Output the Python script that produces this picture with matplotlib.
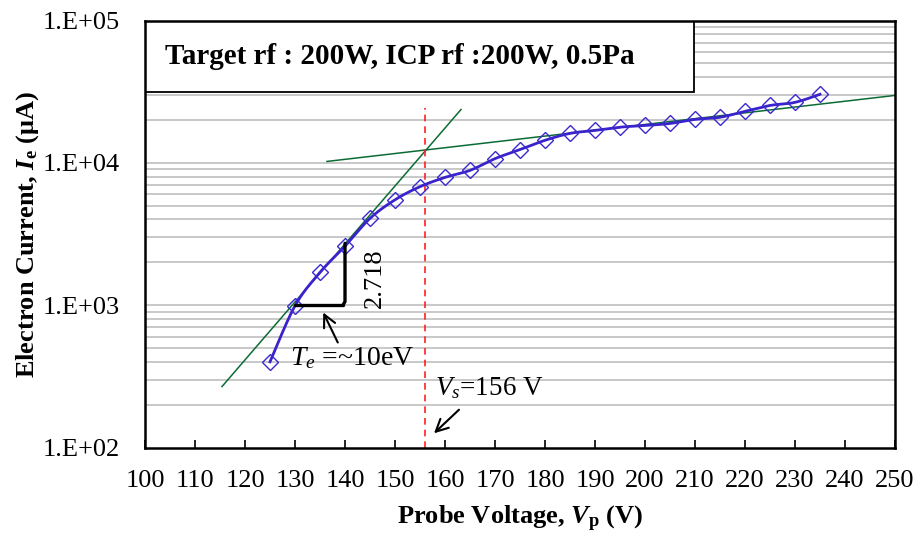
import numpy as np
import matplotlib
matplotlib.use("Agg")
import matplotlib.pyplot as plt
from matplotlib.patches import Rectangle

plt.rcParams['font.family'] = ['Liberation Serif', 'DejaVu Serif']
plt.rcParams['mathtext.fontset'] = 'custom'
plt.rcParams['mathtext.rm'] = 'Liberation Serif'
plt.rcParams['mathtext.it'] = 'Liberation Serif:italic'
plt.rcParams['mathtext.bf'] = 'Liberation Serif:bold'
try:
    plt.rcParams['mathtext.bfit'] = 'Liberation Serif:italic:bold'
except KeyError:
    pass

# ---- data ----
probe_voltage = [125, 130, 135, 140, 145, 150, 155, 160, 165, 170, 175, 180,
                 185, 190, 195, 200, 205, 210, 215, 220, 225, 230, 235]
electron_current = [400, 990, 1700, 2600, 4070, 5500, 6800, 7900, 8850, 10700,
                    12400, 14400, 16100, 16900, 17800, 18300, 18900, 20200,
                    20900, 23000, 25300, 26600, 30300]

fit_steep_x = [115.4, 163.2]
fit_steep_y = [268, 23700]
fit_flat_x = [136.4, 250]
fit_flat_y = [10230, 29760]
vs_value = 156
vs_line_y = [100, 24100]
bracket_x = [130, 140]
bracket_y = [1000, 2718]

x_ticks = list(range(100, 251, 10))
y_ticks = [1e2, 1e3, 1e4, 1e5]
y_tick_labels = ['1.E+02', '1.E+03', '1.E+04', '1.E+05']
box_title = 'Target rf : 200W, ICP rf :200W, 0.5Pa'

# ---- figure ----
fig = plt.figure(figsize=(9.2, 5.35), dpi=100)
ax = fig.add_axes([145/920, (535-447.5)/535, 750/920, 427/535])
ax.set_yscale('log')
ax.set_xlim(100, 250)
ax.set_ylim(1e2, 1e5)

# gridlines at every 1..9 x decade
grid_vals = [m * 10**e for e in (2, 3, 4) for m in range(1, 10)][1:]
for g in grid_vals:
    ax.axhline(g, color='#c8c8c8', lw=1.4, zorder=0)

# smooth (Catmull-Rom / Bezier) curve in (x, log y) space
xs = np.array(probe_voltage, float)
ys = np.log10(np.array(electron_current, float))
P = np.column_stack([xs, ys])
Pext = np.vstack([P[0], P, P[-1]])
curve = []
t = np.linspace(0, 1, 25)[:, None]
for i in range(len(P) - 1):
    p0, p1, p2, p3 = Pext[i], Pext[i+1], Pext[i+2], Pext[i+3]
    c1 = p1 + (p2 - p0) / 6
    c2 = p2 - (p3 - p1) / 6
    seg = ((1-t)**3) * p1 + 3*((1-t)**2)*t*c1 + 3*(1-t)*t**2*c2 + t**3*p2
    curve.append(seg)
curve = np.vstack(curve)
ax.plot(curve[:, 0], 10**curve[:, 1], color='#3a22cc', lw=2.0, zorder=4)
ax.plot(probe_voltage, electron_current, linestyle='none', marker='D',
        ms=8.5, mfc='none', mec='#3a2acc', mew=1.0, zorder=5)

# fit lines
ax.plot(fit_steep_x, fit_steep_y, color='#0b6b35', lw=1.1, zorder=3)
ax.plot(fit_flat_x, fit_flat_y, color='#0b6b35', lw=1.1, zorder=3)

# plasma potential
ax.plot([vs_value, vs_value], vs_line_y, color='#ff2020', lw=1.2,
        linestyle=(0, (4, 3)), zorder=3)

# bracket
bx0, bx1 = bracket_x
by0, by1 = bracket_y
ax.plot([bx0, bx1 - 0.4], [by0, by0], color='black', lw=2.4, zorder=6,
        solid_capstyle='round')
ax.plot([bx1 - 0.4, bx1, bx1], [by0, by0 * 1.06, by1], color='black', lw=2.4,
        zorder=6, solid_joinstyle='round', solid_capstyle='round')

# annotations
ax.text(146.0, 1553, '2.718', rotation=90, ha='center', va='center',
        fontsize=19, zorder=7)
ax.annotate('', xy=(135.4, 925), xytext=(138.8, 525),
            arrowprops=dict(arrowstyle='->', color='black', lw=1.5,
                            mutation_scale=22), zorder=7)
ax.text(129, 380, r'$T_e$ =~10eV', ha='left', va='baseline', fontsize=20,
        zorder=7)
ax.text(158, 234, r'$V_s$=156 V', ha='left', va='baseline', fontsize=19.5,
        zorder=7)
ax.annotate('', xy=(157.4, 122), xytext=(163.2, 190),
            arrowprops=dict(arrowstyle='->', color='black', lw=1.5,
                            mutation_scale=22), zorder=7)

# title box
box = Rectangle((0.0, (447.5-92)/427), (694-145)/750, (92-21)/427,
                transform=ax.transAxes, facecolor='white', edgecolor='black',
                lw=1.3, zorder=8)
ax.add_patch(box)
ax.text(20/750, (447.5-57)/427, box_title, transform=ax.transAxes,
        ha='left', va='center', fontsize=21, fontweight='bold', zorder=9)

# axes styling
for s in ax.spines.values():
    s.set_linewidth(1.8)
    s.set_color('black')
    s.set_zorder(10)
ax.set_xticks(x_ticks)
ax.set_xticklabels([str(v) for v in x_ticks])
ax.set_yticks(y_ticks)
ax.set_yticklabels(y_tick_labels)
ax.yaxis.set_minor_locator(matplotlib.ticker.NullLocator())
ax.tick_params(axis='x', direction='in', length=6, width=1.2, pad=16,
               labelsize=19, top=False)
ax.tick_params(axis='y', length=0, pad=18, labelsize=19)

ax.set_xlabel(r'Probe Voltage, $\mathbfit{V}_{\mathbf{p}}$ (V)', fontsize=19,
              fontweight='bold', labelpad=8.5)
ax.set_ylabel(r'Electron Current, $\mathbfit{I}_{\mathbf{e}}$ (μA)', fontsize=19,
              fontweight='bold', labelpad=1.5)

fig.savefig('out.png', dpi=100)
